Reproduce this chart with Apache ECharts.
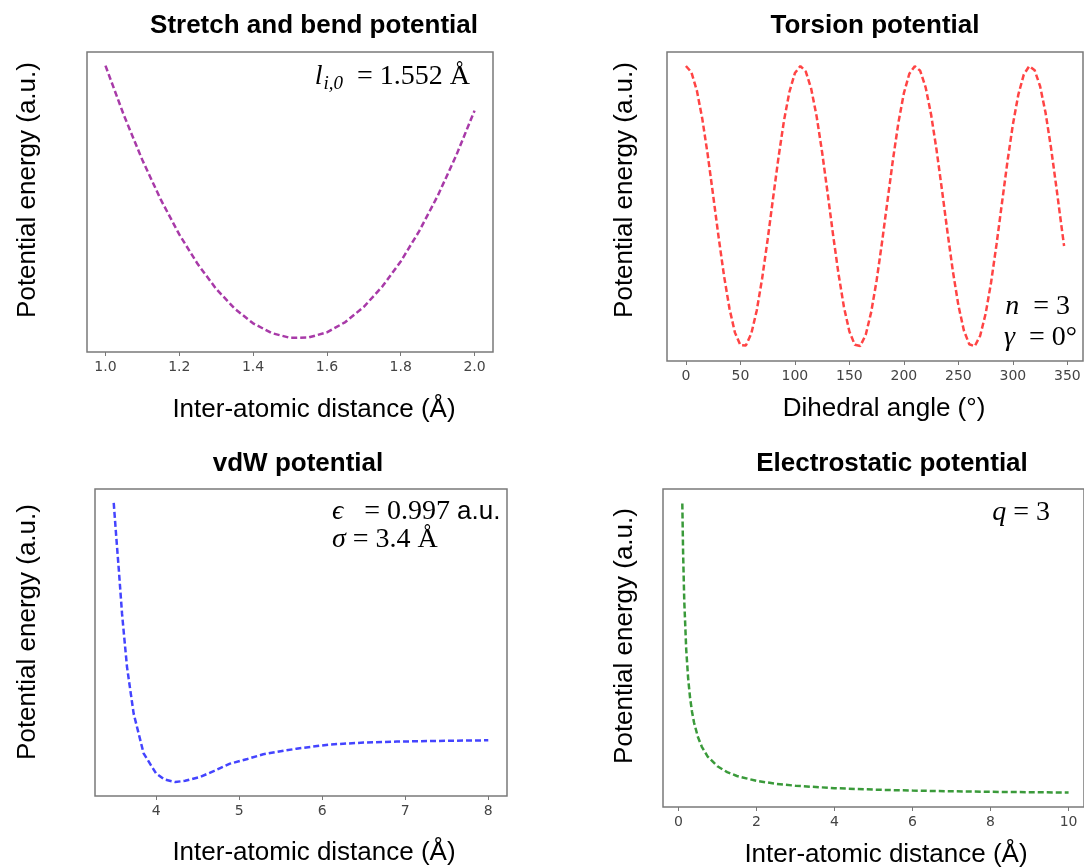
<!DOCTYPE html>
<html>
<head>
<meta charset="utf-8">
<script src="https://cdn.jsdelivr.net/npm/echarts@6/dist/echarts.min.js"></script>
<style>
  html, body { margin: 0; padding: 0; background: #fff; }
  #chart { width: 1084px; height: 867px; }
</style>
</head>
<body>
<div id="chart"></div>
<script>
// stretch and bend (harmonic well)
const stretchX = [1.00, 1.05, 1.10, 1.15, 1.20, 1.25, 1.30, 1.35, 1.40, 1.45, 1.50, 1.55, 1.60, 1.65, 1.70, 1.75, 1.80, 1.85, 1.90, 1.95, 2.00];
const stretchY = [0.2730, 0.2233, 0.1785, 0.1388, 0.1040, 0.0743, 0.0495, 0.0298, 0.0150, 0.0053, 0.0005, 0.0008, 0.0060, 0.0163, 0.0315, 0.0518, 0.0770, 0.1073, 0.1425, 0.1828, 0.2280];
const stretchTicks = [1.0, 1.2, 1.4, 1.6, 1.8, 2.0];

// torsion
const torsionX = [0, 5, 10, 15, 20, 25, 30, 35, 40, 45, 50, 55, 60, 65, 70, 75, 80, 85, 90, 95, 100, 105,
  110, 115, 120, 125, 130, 135, 140, 145, 150, 155, 160, 165, 170, 175, 180, 185, 190, 195, 200, 205, 210,
  215, 220, 225, 230, 235, 240, 245, 250, 255, 260, 265, 270, 275, 280, 285, 290, 295, 300, 305, 310, 315,
  320, 325, 330, 335, 340, 345, 347];
const torsionY = [1.000, 0.956, 0.827, 0.626, 0.369, 0.079, -0.218, -0.495, -0.728, -0.898, -0.988, -0.990,
  -0.905, -0.740, -0.510, -0.235, 0.061, 0.352, 0.612, 0.817, 0.950, 1.000,
  0.961, 0.837, 0.639, 0.385, 0.097, -0.200, -0.479, -0.716, -0.890, -0.985, -0.993, -0.913, -0.752,
  -0.526, -0.252, 0.043, 0.335, 0.598, 0.807, 0.945, 0.999,
  0.966, 0.847, 0.653, 0.402, 0.115, -0.182, -0.463, -0.703, -0.881, -0.981, -0.995, -0.920, -0.764,
  -0.541, -0.270, 0.025, 0.318, 0.583, 0.796, 0.939, 0.999,
  0.970, 0.856, 0.667, 0.418, 0.132, -0.165, -0.281];
const torsionTicks = [0, 50, 100, 150, 200, 250, 300, 350];

// van der Waals
const vdwX = [3.49, 3.52, 3.55, 3.59, 3.65, 3.73, 3.85, 4.00, 4.10, 4.23, 4.35, 4.53, 4.70, 4.89, 5.10, 5.29, 5.50, 5.69, 6.10, 6.50, 6.90, 7.30, 7.70, 8.00];
const vdwY = [5.53, 4.75, 4.00, 2.94, 1.69, 0.60, -0.33, -0.80, -0.94, -1.00, -0.97, -0.88, -0.74, -0.57, -0.46, -0.35, -0.28, -0.22, -0.12, -0.077, -0.054, -0.040, -0.030, -0.023];
const vdwTicks = [4, 5, 6, 7, 8];

// electrostatic
const elecX = [0.10, 0.12, 0.15, 0.20, 0.25, 0.30, 0.35, 0.40, 0.50, 0.60, 0.75, 1.00, 1.25, 1.50, 2.00, 2.50, 3.00, 4.00, 5.00, 6.00, 7.00, 8.00, 9.00, 10.00];
const elecY = [30.0, 25.0, 20.0, 15.0, 12.0, 10.0, 8.57, 7.50, 6.00, 5.00, 4.00, 3.00, 2.40, 2.00, 1.50, 1.20, 1.00, 0.75, 0.60, 0.50, 0.43, 0.375, 0.333, 0.30];
const elecTicks = [0, 2, 4, 6, 8, 10];

const pairs = (xs, ys) => xs.map((x, i) => [x, ys[i]]);

const chart = echarts.init(document.getElementById('chart'));

const grids = [
  { left: 87, top: 52, width: 406, height: 300 },
  { left: 667, top: 52, width: 416, height: 309 },
  { left: 95, top: 489, width: 412, height: 307 },
  { left: 663, top: 489, width: 424, height: 318 }
].map((g) => ({
  ...g,
  show: true,
  borderColor: '#7a7a7a',
  borderWidth: 1.5
}));

function xAxis(idx, min, max, ticks, fmt) {
  return {
    type: 'value',
    gridIndex: idx,
    min: min,
    max: max,
    axisLine: { show: false, onZero: false },
    splitLine: { show: false },
    axisTick: {
      show: true,
      length: 4,
      customValues: ticks,
      lineStyle: { color: '#777', width: 1 }
    },
    axisLabel: {
      customValues: ticks,
      formatter: fmt,
      color: '#444',
      fontFamily: 'DejaVu Sans',
      fontSize: 14,
      margin: 8
    }
  };
}

function yAxis(idx, min, max) {
  return {
    type: 'value',
    gridIndex: idx,
    min: min,
    max: max,
    axisLine: { show: false },
    axisTick: { show: false },
    axisLabel: { show: false },
    splitLine: { show: false }
  };
}

function line(idx, data, color) {
  return {
    type: 'line',
    xAxisIndex: idx,
    yAxisIndex: idx,
    data: data,
    showSymbol: false,
    smooth: false,
    lineStyle: { color: color, width: 2.5, type: [6, 3] }
  };
}

const sans = 'Liberation Sans, Arial, sans-serif';
const serif = 'Liberation Serif, serif';

function label(x, y, text, opts) {
  return {
    type: 'text',
    x: x,
    y: y,
    rotation: opts && opts.rotate ? Math.PI / 2 : 0,
    style: {
      text: text,
      font: (opts && opts.bold ? 'bold ' : '') + '26px ' + sans,
      fill: '#000',
      align: 'center',
      verticalAlign: 'middle'
    }
  };
}

const rich = {
  it: { fontFamily: serif, fontStyle: 'italic', fontSize: 28 },
  sub: { fontFamily: serif, fontStyle: 'italic', fontSize: 19, padding: [14, 0, 0, 1] },
  n: { fontFamily: serif, fontSize: 28 },
  s: { fontFamily: sans, fontSize: 26 }
};

function mathText(x, y, text, align) {
  return {
    type: 'text',
    x: x,
    y: y,
    style: {
      text: text,
      font: '28px ' + serif,
      fill: '#000',
      align: align,
      verticalAlign: 'middle',
      rich: rich
    }
  };
}

chart.setOption({
  animation: false,
  backgroundColor: '#fff',
  grid: grids,
  xAxis: [
    xAxis(0, 0.95, 2.05, stretchTicks, (v) => v.toFixed(1)),
    xAxis(1, -17.35, 364.35, torsionTicks, (v) => String(v)),
    xAxis(2, 3.2645, 8.2255, vdwTicks, (v) => String(v)),
    xAxis(3, -0.395, 10.395, elecTicks, (v) => String(v))
  ],
  yAxis: [
    yAxis(0, -0.0137, 0.2867),
    yAxis(1, -1.1, 1.1),
    yAxis(2, -1.3265, 5.8565),
    yAxis(3, -1.185, 31.485)
  ],
  series: [
    line(0, pairs(stretchX, stretchY), '#a83aa8'),
    line(1, pairs(torsionX, torsionY), '#ff4444'),
    line(2, pairs(vdwX, vdwY), '#4444ff'),
    line(3, pairs(elecX, elecY), '#3a9a3a')
  ],
  graphic: [
    // titles
    label(314, 26, 'Stretch and bend potential', { bold: true }),
    label(875, 26, 'Torsion potential', { bold: true }),
    label(298, 464, 'vdW potential', { bold: true }),
    label(892, 464, 'Electrostatic potential', { bold: true }),
    // x labels
    label(314, 410, 'Inter-atomic distance (Å)'),
    label(884, 409, 'Dihedral angle (°)'),
    label(314, 853, 'Inter-atomic distance (Å)'),
    label(886, 855, 'Inter-atomic distance (Å)'),
    // y labels
    label(28, 190, 'Potential energy (a.u.)', { rotate: true }),
    label(625, 190, 'Potential energy (a.u.)', { rotate: true }),
    label(28, 632, 'Potential energy (a.u.)', { rotate: true }),
    label(625, 636, 'Potential energy (a.u.)', { rotate: true }),
    // annotations
    mathText(470, 77, '{it|l}{sub|i,0}{n|  = 1.552 Å}', 'right'),
    mathText(1070, 307, '{it|n}{n|  = 3}', 'right'),
    mathText(1077, 338, '{it|γ}{n|  = 0°}', 'right'),
    mathText(332, 512, '{it|ϵ}{n|   = 0.997 }{s|a.u.}', 'left'),
    mathText(332, 540, '{it|σ}{n| = 3.4 Å}', 'left'),
    mathText(1050, 513, '{it|q}{n| = 3}', 'right')
  ]
});
</script>
</body>
</html>
